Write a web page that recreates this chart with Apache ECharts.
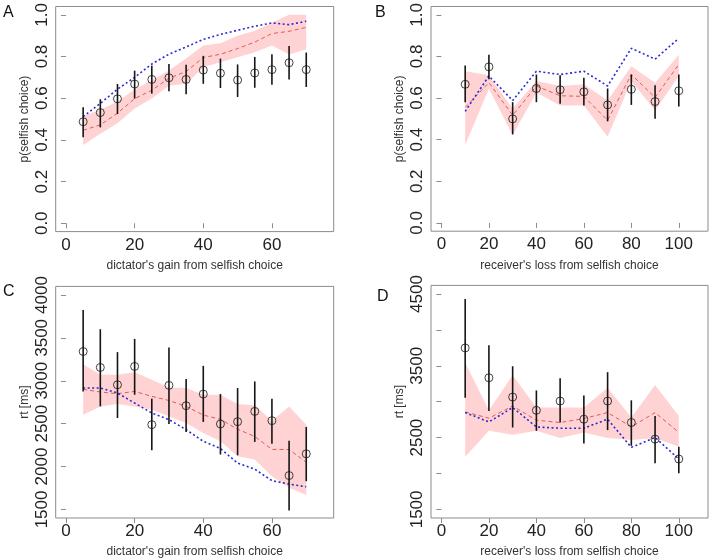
<!DOCTYPE html>
<html>
<head>
<meta charset="utf-8">
<script src="https://cdn.jsdelivr.net/npm/echarts@6.0.0/dist/echarts.min.js"></script>
<style>
  html, body { margin: 0; padding: 0; background: #fff; }
  #main { width: 716px; height: 559px; }
</style>
</head>
<body>
<div id="main"></div>
<script>
// x values
const gainX = [5, 10, 15, 20, 25, 30, 35, 40, 45, 50, 55, 60, 65, 70];
const lossX = [10, 20, 30, 40, 50, 60, 70, 80, 90, 100];

// A: p(selfish choice) by dictator's gain
const pGainObs   = [0.487, 0.531, 0.597, 0.668, 0.690, 0.698, 0.690, 0.735, 0.720, 0.687, 0.721, 0.737, 0.770, 0.737];
const pGainObsLo = [0.413, 0.460, 0.524, 0.598, 0.622, 0.633, 0.619, 0.669, 0.649, 0.606, 0.650, 0.665, 0.690, 0.654];
const pGainObsHi = [0.557, 0.595, 0.668, 0.732, 0.756, 0.764, 0.760, 0.803, 0.790, 0.762, 0.798, 0.811, 0.850, 0.819];
const pGainMean  = [0.446, 0.472, 0.528, 0.598, 0.638, 0.696, 0.728, 0.795, 0.811, 0.838, 0.869, 0.910, 0.921, 0.940];
const pGainBandLo = [0.375, 0.430, 0.480, 0.551, 0.599, 0.660, 0.669, 0.749, 0.773, 0.796, 0.820, 0.853, 0.810, 0.835];
const pGainBandHi = [0.515, 0.545, 0.583, 0.643, 0.686, 0.733, 0.790, 0.853, 0.864, 0.900, 0.923, 0.962, 1.000, 1.000];
const pGainAlt   = [0.512, 0.575, 0.643, 0.700, 0.764, 0.811, 0.846, 0.882, 0.906, 0.926, 0.945, 0.961, 0.953, 0.969];

// B: p(selfish choice) by receiver's loss
const pLossObs   = [0.666, 0.750, 0.500, 0.646, 0.640, 0.630, 0.567, 0.642, 0.583, 0.635];
const pLossObsLo = [0.580, 0.690, 0.425, 0.580, 0.572, 0.564, 0.488, 0.567, 0.500, 0.559];
const pLossObsHi = [0.756, 0.808, 0.580, 0.713, 0.709, 0.698, 0.646, 0.713, 0.661, 0.713];
const pLossMean  = [0.555, 0.674, 0.517, 0.658, 0.611, 0.608, 0.493, 0.713, 0.603, 0.761];
const pLossBandLo = [0.375, 0.645, 0.422, 0.627, 0.564, 0.564, 0.414, 0.682, 0.540, 0.706];
const pLossBandHi = [0.729, 0.710, 0.548, 0.682, 0.658, 0.666, 0.588, 0.753, 0.674, 0.808];
const pLossAlt   = [0.536, 0.706, 0.588, 0.729, 0.713, 0.729, 0.658, 0.839, 0.787, 0.887];

// C: rt by dictator's gain
const rtGainObs   = [3341, 3155, 2953, 3167, 2488, 2946, 2709, 2845, 2496, 2523, 2643, 2535, 1895, 2148];
const rtGainObsLo = [2876, 2701, 2566, 2837, 2190, 2496, 2403, 2520, 2140, 2131, 2287, 2267, 1488, 1829];
const rtGainObsHi = [3826, 3601, 3334, 3488, 2791, 3388, 3020, 3174, 2845, 2915, 2992, 2791, 2302, 2462];
const rtGainMean  = [2900, 2869, 2849, 2876, 2818, 2770, 2701, 2600, 2550, 2435, 2350, 2200, 2198, 2050];
const rtGainBandLo = [2605, 2701, 2729, 2700, 2663, 2585, 2508, 2392, 2294, 2120, 2081, 1888, 1752, 1667];
const rtGainBandHi = [3193, 3070, 3070, 3100, 3012, 2922, 2915, 2837, 2837, 2729, 2713, 2535, 2701, 2488];
const rtGainAlt   = [2915, 2915, 2857, 2740, 2624, 2547, 2430, 2294, 2210, 2040, 1970, 1835, 1795, 1764];

// D: rt by receiver's loss
const rtLossObs   = [3749, 3333, 3065, 2880, 3009, 2756, 3009, 2710, 2479, 2202];
const rtLossObsLo = [3056, 2871, 2641, 2594, 2710, 2419, 2604, 2386, 2142, 2004];
const rtLossObsHi = [4431, 3785, 3494, 3157, 3326, 3088, 3411, 3019, 2802, 2372];
const rtLossMean  = [2857, 2770, 2940, 2742, 2710, 2765, 2849, 2649, 2849, 2572];
const rtLossBandLo = [2234, 2594, 2539, 2594, 2493, 2572, 2493, 2465, 2493, 2372];
const rtLossBandHi = [3541, 2880, 3369, 2918, 2918, 2918, 3195, 2779, 3231, 2802];
const rtLossAlt   = [2849, 2718, 2918, 2649, 2631, 2631, 2756, 2364, 2502, 2202];

// tick labels
const gainTicks = [0, 20, 40, 60];
const lossTicks = [0, 20, 40, 60, 80, 100];
const pTicks = [0, 0.2, 0.4, 0.6, 0.8, 1.0];
const rtGainTicks = [1500, 2000, 2500, 3000, 3500, 4000];
const rtLossTicks = [1500, 2000, 2500, 3000, 3500, 4000, 4500];
const rtLossLabels = [1500, 2500, 3500, 4500];

const FONT = "'Liberation Sans', Arial, sans-serif";
const BOX = '#8c8c8c';

function makeX(idx, min, max, ticks, name) {
  return {
    type: 'value', gridIndex: idx, min: min, max: max,
    name: name, nameLocation: 'middle', nameGap: 28,
    nameTextStyle: { fontFamily: FONT, fontSize: 12, color: '#333' },
    axisLine: { show: false },
    splitLine: { show: false },
    axisTick: { show: true, length: 5, customValues: ticks, lineStyle: { color: BOX } },
    axisLabel: { customValues: ticks, margin: 5, fontFamily: FONT, fontSize: 17, color: '#222' }
  };
}

function makeY(idx, min, max, ticks, labels, name, fmt) {
  return {
    type: 'value', gridIndex: idx, min: min, max: max,
    name: name, nameLocation: 'middle', nameGap: 25, nameRotate: 90,
    nameTextStyle: { fontFamily: FONT, fontSize: 12, color: '#333' },
    axisLine: { show: false },
    splitLine: { show: false },
    axisTick: { show: true, length: 5, customValues: ticks, lineStyle: { color: BOX } },
    axisLabel: { customValues: labels, rotate: 90, margin: 5, fontFamily: FONT, fontSize: 17, color: '#222', formatter: fmt }
  };
}

function panelSeries(idx, xs, bandLo, bandHi, mean, alt, obs, lo, hi) {
  return [
    {
      type: 'custom', xAxisIndex: idx, yAxisIndex: idx, silent: true,
      data: [0],
      renderItem: function (params, api) {
        const pts = [];
        for (let i = 0; i < xs.length; i++) pts.push(api.coord([xs[i], bandHi[i]]));
        for (let i = xs.length - 1; i >= 0; i--) pts.push(api.coord([xs[i], bandLo[i]]));
        return { type: 'polygon', shape: { points: pts }, style: { fill: '#ffd3d3' } };
      },
      z: 1
    },
    {
      type: 'line', xAxisIndex: idx, yAxisIndex: idx, symbol: 'none', silent: true,
      data: xs.map((x, i) => [x, mean[i]]),
      lineStyle: { color: '#e05a5a', width: 1, type: [4, 3] }, z: 2
    },
    {
      type: 'line', xAxisIndex: idx, yAxisIndex: idx, symbol: 'none', silent: true,
      data: xs.map((x, i) => [x, alt[i]]),
      lineStyle: { color: '#2a2ad0', width: 1.6, type: [2, 2.5] }, z: 3
    },
    {
      type: 'custom', xAxisIndex: idx, yAxisIndex: idx, silent: true,
      data: xs.map((x, i) => [x, lo[i], hi[i]]),
      renderItem: function (params, api) {
        const a = api.coord([api.value(0), api.value(1)]);
        const b = api.coord([api.value(0), api.value(2)]);
        return { type: 'line', shape: { x1: a[0], y1: a[1], x2: b[0], y2: b[1] }, style: { stroke: '#151515', lineWidth: 1.6 } };
      },
      z: 4
    },
    {
      type: 'scatter', xAxisIndex: idx, yAxisIndex: idx, silent: true,
      data: xs.map((x, i) => [x, obs[i]]),
      symbol: 'circle', symbolSize: 8,
      itemStyle: { color: 'rgba(0,0,0,0)', borderColor: '#151515', borderWidth: 1 }, z: 5
    }
  ];
}

const fmtP = v => v.toFixed(1);
const fmtRt = v => String(v);

const chart = echarts.init(document.getElementById('main'), null, { renderer: 'canvas' });
chart.setOption({
  animation: false,
  backgroundColor: '#fff',
  grid: [
    { left: 55.7, top: 3.6, width: 278, height: 228, show: true, borderColor: BOX, borderWidth: 1 },
    { left: 431, top: 2.5, width: 277, height: 228.7, show: true, borderColor: BOX, borderWidth: 1 },
    { left: 55.7, top: 286.4, width: 278, height: 232.2, show: true, borderColor: BOX, borderWidth: 1 },
    { left: 431, top: 285.4, width: 277, height: 234, show: true, borderColor: BOX, borderWidth: 1 }
  ],
  xAxis: [
    makeX(0, -3, 78, gainTicks, "dictator's gain from selfish choice"),
    makeX(1, -4.4, 112.3, lossTicks, "receiver's loss from selfish choice"),
    makeX(2, -3, 78, gainTicks, "dictator's gain from selfish choice"),
    makeX(3, -4.4, 112.3, lossTicks, "receiver's loss from selfish choice")
  ],
  yAxis: [
    makeY(0, -0.04, 1.04, pTicks, pTicks, 'p(selfish choice)', fmtP),
    makeY(1, -0.04, 1.04, pTicks, pTicks, 'p(selfish choice)', fmtP),
    makeY(2, 1400, 4100, rtGainTicks, rtGainTicks, 'rt [ms]', fmtRt),
    makeY(3, 1380, 4620, rtLossTicks, rtLossLabels, 'rt [ms]', fmtRt)
  ],
  graphic: [
    { type: 'text', left: 3, top: 5, style: { text: 'A', font: '16px ' + FONT, fill: '#111' } },
    { type: 'text', left: 375, top: 5, style: { text: 'B', font: '16px ' + FONT, fill: '#111' } },
    { type: 'text', left: 3, top: 284, style: { text: 'C', font: '16px ' + FONT, fill: '#111' } },
    { type: 'text', left: 377, top: 289, style: { text: 'D', font: '16px ' + FONT, fill: '#111' } }
  ],
  series: [].concat(
    panelSeries(0, gainX, pGainBandLo, pGainBandHi, pGainMean, pGainAlt, pGainObs, pGainObsLo, pGainObsHi),
    panelSeries(1, lossX, pLossBandLo, pLossBandHi, pLossMean, pLossAlt, pLossObs, pLossObsLo, pLossObsHi),
    panelSeries(2, gainX, rtGainBandLo, rtGainBandHi, rtGainMean, rtGainAlt, rtGainObs, rtGainObsLo, rtGainObsHi),
    panelSeries(3, lossX, rtLossBandLo, rtLossBandHi, rtLossMean, rtLossAlt, rtLossObs, rtLossObsLo, rtLossObsHi)
  )
});
</script>
</body>
</html>
